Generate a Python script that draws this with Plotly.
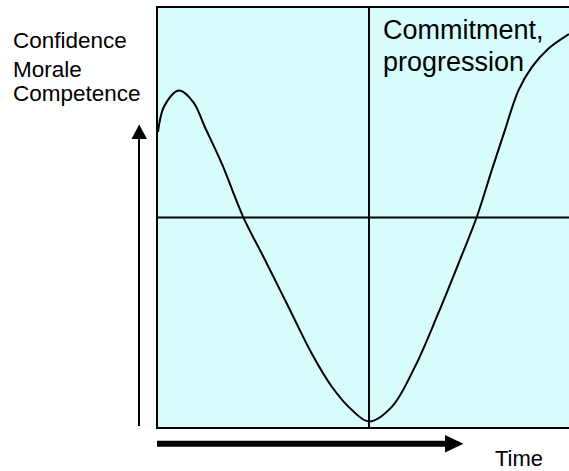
import plotly.graph_objects as go

# ---- data (time in arbitrary units, level 0..10) ----
time_pts = [0.0, 0.15, 0.50, 0.84, 1.11, 1.51, 2.02, 2.54, 3.09, 3.64, 4.12, 4.59,
            5.00, 5.54, 6.09, 6.64, 7.12, 7.55, 7.91, 8.22, 8.54, 8.86, 9.25, 9.74]
level_pts = [7.04, 7.66, 8.03, 7.75, 7.16, 6.29, 5.01, 3.98, 2.87, 1.76, 0.96, 0.41,
             0.13, 0.48, 1.44, 2.71, 3.90, 5.00, 6.13, 7.08, 8.03, 8.59, 9.03, 9.38]
mid_time = 5.0
mid_level = 5.0
x_range = [0, 9.74]
y_range = [0, 10]

y_labels = ["Confidence", "Morale", "Competence"]
corner_labels = ["Commitment,", "progression"]
x_label = "Time"

# ---- layout geometry (pixels) ----
FW, FH = 569, 471
L, R, T, B = 158, 0, 8, 44
W = FW - L - R
H = FH - T - B


def px(p):
    return (p - L) / W


def py(p):
    return (T + H - p) / H


BG = "rgb(214,252,252)"
FONT = "Liberation Sans, Arial, sans-serif"

fig = go.Figure()
fig.add_trace(go.Scatter(
    x=time_pts, y=level_pts, mode="lines",
    line=dict(color="black", width=2, shape="spline", smoothing=1.0),
    hoverinfo="skip", showlegend=False,
))

shapes = [
    dict(type="line", xref="x", yref="paper", x0=mid_time, x1=mid_time, y0=0, y1=1,
         line=dict(color="black", width=2)),
    dict(type="line", xref="paper", yref="y", x0=0, x1=1, y0=mid_level, y1=mid_level,
         line=dict(color="black", width=2)),
    # vertical arrow
    dict(type="line", xref="paper", yref="paper", x0=px(139), x1=px(139), y0=py(426), y1=py(137),
         line=dict(color="black", width=2)),
    dict(type="path", xref="paper", yref="paper",
         path=f"M {px(139.2)},{py(124.5)} L {px(131.5)},{py(139)} L {px(147)},{py(139)} Z",
         fillcolor="black", line=dict(color="black", width=0)),
    # time arrow
    dict(type="line", xref="paper", yref="paper", x0=px(157), x1=px(446), y0=py(443.7), y1=py(443.7),
         line=dict(color="black", width=6)),
    dict(type="path", xref="paper", yref="paper",
         path=f"M {px(463.5)},{py(443.7)} L {px(445)},{py(435)} L {px(445)},{py(452.4)} Z",
         fillcolor="black", line=dict(color="black", width=0)),
]

annotations = []
for lab, cy in zip(y_labels, [40.7, 69.1, 93.4]):
    annotations.append(dict(text=lab, xref="paper", yref="paper", x=px(11), y=py(cy),
                            xanchor="left", yanchor="middle", showarrow=False,
                            font=dict(family=FONT, size=22.5, color="black")))
for lab, cy in zip(corner_labels, [30.5, 62.5]):
    annotations.append(dict(text=lab, xref="paper", yref="paper", x=px(381), y=py(cy),
                            xanchor="left", yanchor="middle", showarrow=False,
                            font=dict(family=FONT, size=27, color="black")))
annotations.append(dict(text=x_label, xref="paper", yref="paper", x=px(493), y=py(458),
                        xanchor="left", yanchor="middle", showarrow=False,
                        font=dict(family=FONT, size=22, color="black")))

fig.update_layout(
    width=FW, height=FH,
    margin=dict(l=L, r=R, t=T, b=B, pad=0),
    paper_bgcolor="white", plot_bgcolor=BG,
    shapes=shapes, annotations=annotations,
    showlegend=False,
    xaxis=dict(range=x_range, showgrid=False, zeroline=False, showticklabels=False, ticks="",
               showline=True, linecolor="black", linewidth=2, mirror=True, fixedrange=True),
    yaxis=dict(range=y_range, showgrid=False, zeroline=False, showticklabels=False, ticks="",
               showline=True, linecolor="black", linewidth=2, mirror=False, fixedrange=True),
)

fig.write_html(
    "out.html",
    config={"displayModeBar": False},
    post_script="document.body.style.margin='0';document.body.style.overflow='hidden';",
)
